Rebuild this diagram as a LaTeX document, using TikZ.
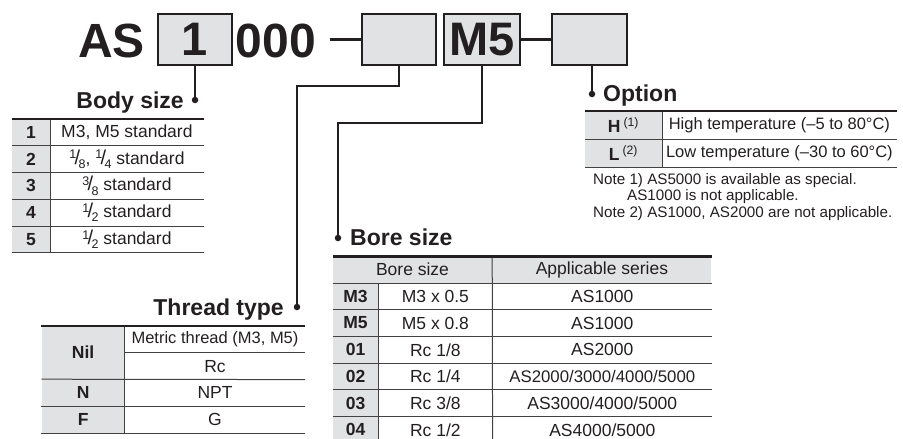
\documentclass[tikz,border=0pt]{standalone}
\usepackage{fontspec}
\setmainfont{Liberation Sans}
\usepackage{xcolor}
\usepackage{tikz}
\usetikzlibrary{positioning}

\definecolor{ink}{HTML}{231F20}
\definecolor{keygray}{HTML}{E1E2E4}
\newcommand{\tabfont}{\fontsize{17.5}{20}\selectfont}
\newcommand{\bodyfrac}[2]{\raisebox{0.6ex}{\fontsize{12.5}{12.5}\selectfont #1}\kern-1.6pt{\fontsize{20}{20}\selectfont /}\kern-1.6pt\raisebox{-0.45ex}{\fontsize{12.5}{12.5}\selectfont #2}}

\begin{document}
\begin{tikzpicture}[x=1pt, y=-1pt, every node/.style={text=ink, inner sep=0pt}]
    \tikzstyle{codebox} = [rectangle, draw=ink, fill=keygray, line width=2pt, minimum height=51pt, font=\fontsize{47}{50}\selectfont\bfseries]
    \tikzstyle{bigtext} = [font=\fontsize{48}{50}\selectfont\bfseries, anchor=base]
    \tikzstyle{leader} = [draw=ink, line width=1.8pt]
    \tikzstyle{joint} = [draw=ink, line width=3pt]
    \tikzstyle{dot} = [circle, fill=ink, minimum size=6.5pt]
    \tikzstyle{title} = [font=\fontsize{23}{26}\selectfont\bfseries]
    \tikzstyle{note} = [font=\fontsize{15.2}{17}\selectfont, anchor=base west]
    \tikzstyle{cell} = [rectangle, font=\tabfont]
    \tikzstyle{key} = [cell, fill=keygray, font=\tabfont\bfseries]
    \tikzstyle{head} = [cell, fill=keygray, minimum height=26.3pt]
    \tikzstyle{skey} = [key, minimum width=38pt, minimum height=26.4pt]
    \tikzstyle{sval} = [cell, minimum width=153pt, minimum height=26.4pt]
    \tikzstyle{tkey} = [key, minimum width=83pt, minimum height=26.5pt]
    \tikzstyle{tval} = [cell, minimum width=180pt, minimum height=26.5pt]
    \tikzstyle{bkey} = [key, minimum width=45pt, minimum height=26.3pt]
    \tikzstyle{bsize} = [cell, minimum width=114pt, minimum height=26.3pt]
    \tikzstyle{bser} = [cell, minimum width=219pt, minimum height=26.3pt]
    \tikzstyle{okey} = [key, minimum width=77pt, minimum height=28pt]
    \tikzstyle{oval} = [cell, minimum width=234pt, minimum height=28pt, font=\fontsize{16.5}{19}\selectfont]
    \tikzstyle{rule} = [draw=ink!85, line width=1pt]
    \tikzstyle{toprule} = [draw=ink, line width=2.6pt]

    \useasboundingbox (0,0) rectangle (903,439);

    % model code
    \node[bigtext] (as) at (111.5,57) {AS};
    \node[codebox, minimum width=74pt] (c1) at (195,39.5) {1};
    \node[bigtext] (zeros) at (276,57) {000};
    \node[codebox, minimum width=74pt] (c2) at (399,39.5) {};
    \node[codebox, minimum width=76pt] (c3) at (482,39.5) {M5};
    \node[codebox, minimum width=75pt] (c4) at (589.5,39.5) {};
    \draw[joint] (c2.west) -- +(-31,0);
    \draw[joint] (c3.east) -- (c4.west);

    % leaders and titles
    \node[dot] (bodydot) at (195,100) {};
    \node[dot] (threaddot) at (297,307) {};
    \node[dot] (boredot) at (338,238) {};
    \node[dot] (optdot) at (592,94) {};
    \coordinate (bend2) at (297,86);
    \coordinate (bend3) at (338,123);
    \draw[leader] (c1.south) -- (bodydot);
    \draw[leader] (c2.south) |- (bend2) -- (threaddot);
    \draw[leader] (c3.south) |- (bend3) -- (boredot);
    \draw[leader] (c4.south -| optdot) -- (optdot);
    \node[title, anchor=base east] (bodytitle) at (184,108) {Body size};
    \node[title, anchor=base east] (threadtitle) at (284,315) {Thread type};
    \node[title, anchor=base west] (boretitle) at (350,245) {Bore size};
    \node[title, anchor=base west] (opttitle) at (603,101) {Option};

    % body size
    \node[skey] (s1) at (31,132.2) {1};
    \node[sval, right=0pt of s1] (s1v) {M3, M5 standard};
    \node[skey, below=0pt of s1] (s2) {2};
    \node[sval, right=0pt of s2] (s2v) {\bodyfrac18, \bodyfrac14 standard};
    \node[skey, below=0pt of s2] (s3) {3};
    \node[sval, right=0pt of s3] (s3v) {\bodyfrac38 standard};
    \node[skey, below=0pt of s3] (s4) {4};
    \node[sval, right=0pt of s4] (s4v) {\bodyfrac12 standard};
    \node[skey, below=0pt of s4] (s5) {5};
    \node[sval, right=0pt of s5] (s5v) {\bodyfrac12 standard};
    \draw[rule] (s1.south west) -- (s1v.south east);
    \draw[rule] (s2.south west) -- (s2v.south east);
    \draw[rule] (s3.south west) -- (s3v.south east);
    \draw[rule] (s4.south west) -- (s4v.south east);
    \draw[rule] (s5.south west) -- (s5v.south east);
    \draw[rule] (s1.north east) -- (s5.south east);
    \draw[toprule] (s1.north west) -- (s1v.north east);

    % thread type
    \node[tval, font=\fontsize{16.5}{19}\selectfont] (t1v) at (215,339.25) {Metric thread (M3, M5)};
    \node[tval, below=0pt of t1v] (t2v) {Rc};
    \node[tkey, minimum height=53pt, anchor=north east] (tnil) at (t1v.north west) {Nil};
    \node[tkey, below=0pt of tnil] (tn) {N};
    \node[tval, right=0pt of tn] (tnv) {NPT};
    \node[tkey, below=0pt of tn] (tf) {F};
    \node[tval, right=0pt of tf] (tfv) {G};
    \draw[rule] (t1v.south west) -- (t1v.south east);
    \draw[rule] (tnil.south west) -- (t2v.south east);
    \draw[rule] (tn.south west) -- (tnv.south east);
    \draw[rule] (tf.south west) -- (tfv.south east);
    \draw[rule] (tnil.north east) -- (tf.south east);
    \draw[toprule] (tnil.north west) -- (t1v.north east);

    % bore size
    \node[head, minimum width=159pt] (bh1) at (412.5,269.65) {Bore size};
    \node[head, minimum width=219pt, right=0pt of bh1] (bh2) {Applicable series};
    \node[bkey, anchor=north west] (bm3) at (bh1.south west) {M3};
    \node[bsize, right=0pt of bm3] (bm3s) {M3 x 0.5};
    \node[bser, right=0pt of bm3s] (bm3a) {AS1000};
    \node[bkey, below=0pt of bm3] (bm5) {M5};
    \node[bsize, right=0pt of bm5] (bm5s) {M5 x 0.8};
    \node[bser, right=0pt of bm5s] (bm5a) {AS1000};
    \node[bkey, below=0pt of bm5] (b01) {01};
    \node[bsize, right=0pt of b01] (b01s) {Rc 1/8};
    \node[bser, right=0pt of b01s] (b01a) {AS2000};
    \node[bkey, below=0pt of b01] (b02) {02};
    \node[bsize, right=0pt of b02] (b02s) {Rc 1/4};
    \node[bser, right=0pt of b02s, font=\fontsize{16.8}{19}\selectfont] (b02a) {AS2000/3000/4000/5000};
    \node[bkey, below=0pt of b02] (b03) {03};
    \node[bsize, right=0pt of b03] (b03s) {Rc 3/8};
    \node[bser, right=0pt of b03s] (b03a) {AS3000/4000/5000};
    \node[bkey, below=0pt of b03] (b04) {04};
    \node[bsize, right=0pt of b04] (b04s) {Rc 1/2};
    \node[bser, right=0pt of b04s] (b04a) {AS4000/5000};
    \draw[rule] (bh1.south west) -- (bh2.south east);
    \draw[rule] (bm3.south west) -- (bm3a.south east);
    \draw[rule] (bm5.south west) -- (bm5a.south east);
    \draw[rule] (b01.south west) -- (b01a.south east);
    \draw[rule] (b02.south west) -- (b02a.south east);
    \draw[rule] (b03.south west) -- (b03a.south east);
    \draw[rule] (bm3.north east) -- (b04.south east);
    \draw[rule] (bh2.north west) -- (b04a.south west);
    \draw[toprule] (bh1.north west) -- (bh2.north east);

    % option
    \node[okey] (oh) at (623.5,125) {H\,\textsuperscript{\mdseries(1)}};
    \node[oval, right=0pt of oh] (ohv) {High temperature (–5 to 80°C)};
    \node[okey, below=0pt of oh] (ol) {L\,\textsuperscript{\mdseries(2)}};
    \node[oval, right=0pt of ol] (olv) {Low temperature (–30 to 60°C)};
    \draw[rule] (oh.south west) -- (ohv.south east);
    \draw[rule] (ol.south west) -- (olv.south east);
    \draw[rule] (oh.north east) -- (ol.south east);
    \draw[toprule] (oh.north west) -- (ohv.north east);
    \node[note] (note1) at (593,184) {Note 1) AS5000 is available as special.};
    \node[note] (note1b) at (627,200) {AS1000 is not applicable.};
    \node[note] (note2) at (593,217) {Note 2) AS1000, AS2000 are not applicable.};
\end{tikzpicture}
\end{document}
